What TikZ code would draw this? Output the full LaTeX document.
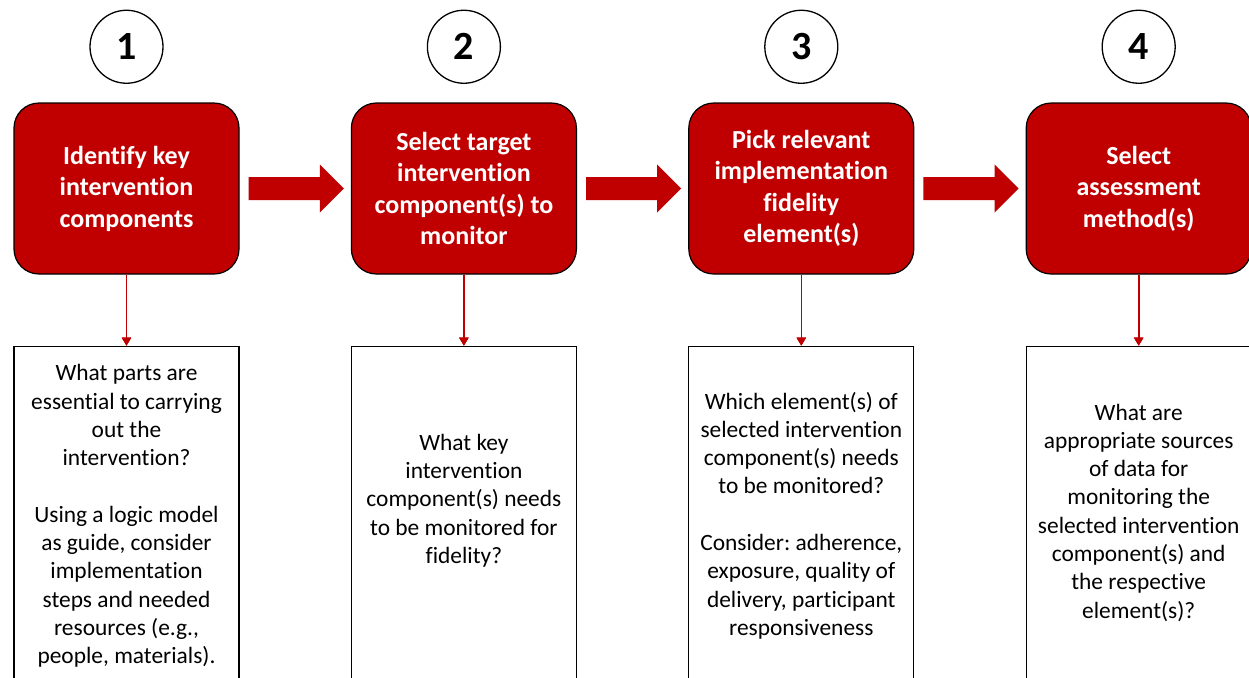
\documentclass[tikz,border=0pt]{standalone}
\usepackage{fontspec}
\setmainfont{Carlito}[Ligatures=NoCommon]
\usetikzlibrary{positioning,calc,arrows.meta}
\definecolor{boxred}{HTML}{C00000}

\begin{document}
\begin{tikzpicture} [x=0.5pt,y=0.5pt,
  stepno/.style={circle,draw,line width=0.65pt,minimum size=36.5pt,inner sep=0pt,
    font=\bfseries\fontsize{20}{24}\selectfont},
  stepbox/.style={rectangle,rounded corners=12.5pt,draw=black,line width=0.6pt,fill=boxred,
    text=white,align=center,minimum width=112.5pt,minimum height=85.5pt,inner sep=2pt,
    font=\bfseries\fontsize{13}{15.75}\selectfont},
  askbox/.style={rectangle,draw=black,line width=0.65pt,fill=white,
    minimum width=112.5pt,minimum height=172.5pt},
  asktext/.style={align=center,inner sep=0pt,font=\fontsize{11.7}{14.15}\selectfont\frenchspacing},
  downarrow/.style={draw=boxred,line width=0.8pt,-{Triangle[length=4pt,width=4.5pt]}}]
\newcommand{\fatarrow}[2]{%
\fill[boxred] ($(#1.east)+(9,11.5)$) -- ($(#2.west)+(-31,11.5)$) -- ++(0,12.5)
  -- ($(#2.west)+(-7,0)$) -- ($(#2.west)+(-31,-24)$) -- ++(0,12.5)
  -- ($(#1.east)+(9,-11.5)$) -- cycle;}

\path[use as bounding box,clip] (0,0) rectangle (1249,-677);

% the four steps
\node[stepbox] (r1) at (126.5,-188.5) {Identify key\\intervention\\components};
\node[stepbox,right=55.6pt of r1] (r2) {Select target\\intervention\\component(s) to\\monitor};
\node[stepbox,right=55.6pt of r2] (r3) {Pick relevant\\implementation\\fidelity\\element(s)};
\node[stepbox,right=55.6pt of r3] (r4) {Select\\assessment\\method(s)};

% numbers on top
\foreach \i in {1,...,4}
  \node[stepno,above=9.25pt of r\i] (c\i) {\i};

% boxes with the questions, running off the bottom
\foreach \i in {1,...,4}
  \node[askbox,below=35.5pt of r\i,anchor=north] (q\i) {};

\node[asktext] (a1) at ($(q1.north)+(0,-170.5)$) {What parts are\\essential to carrying\\out the\\intervention?\\[14.15pt]
  Using a logic model\\as guide, consider\\implementation\\steps and needed\\resources (e.g.,\\people, materials).};
\node[asktext] (a2) at ($(q2.north)+(0,-155)$) {What key\\intervention\\component(s) needs\\to be monitored for\\fidelity?};
\node[asktext] (a3) at ($(q3.north)+(0,-170)$) {Which element(s) of\\selected intervention\\component(s) needs\\to be monitored?\\[14.15pt]
  Consider: adherence,\\exposure, quality of\\delivery, participant\\responsiveness};
\node[asktext] (a4) at ($(q4.north)+(0,-167)$) {What are\\appropriate sources\\of data for\\monitoring the\\selected intervention\\component(s) and\\the respective\\element(s)?};

% connectors
\foreach \i/\j in {1/2,2/3,3/4}
  \fatarrow{r\i}{r\j}
\foreach \i in {1,...,4}
  \draw[downarrow] (r\i) -- (q\i);
\end{tikzpicture}
\end{document}
